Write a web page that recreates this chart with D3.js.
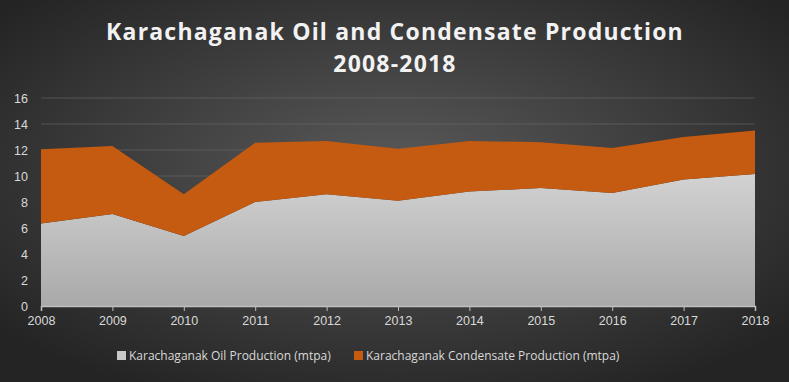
<!DOCTYPE html>
<html>
<head>
<meta charset="utf-8">
<script src="https://cdn.jsdelivr.net/npm/d3@7"></script>
<style>
  body { margin: 0; background: #333; }
  svg { display: block; font-family: "Open Sans", "Liberation Sans", sans-serif; }
</style>
</head>
<body>
<svg id="chart" width="789" height="382"></svg>
<script>
// data
const years = [2008, 2009, 2010, 2011, 2012, 2013, 2014, 2015, 2016, 2017, 2018];
const oil = [6.35, 7.08, 5.38, 8.0, 8.6, 8.1, 8.8, 9.07, 8.7, 9.74, 10.15];
const condensate = [5.7, 5.22, 3.22, 4.56, 4.1, 4.0, 3.9, 3.53, 3.45, 3.26, 3.35];
const yTicks = [0, 2, 4, 6, 8, 10, 12, 14, 16];
const seriesNames = ["Karachaganak Oil Production (mtpa)", "Karachaganak Condensate Production (mtpa)"];
const seriesColors = ["#c8c8c8", "#c55a11"];

const width = 789, height = 382;
const margin = { top: 98, right: 34, bottom: 76, left: 41 };

const svg = d3.select("#chart");
const defs = svg.append("defs");

const bg = defs.append("radialGradient").attr("id", "bg")
  .attr("cx", "50%").attr("cy", "45%").attr("r", "65%");
bg.append("stop").attr("offset", "0%").attr("stop-color", "#5a5a5a");
bg.append("stop").attr("offset", "100%").attr("stop-color", "#242424");

const oilGrad = defs.append("linearGradient").attr("id", "oilGrad")
  .attr("x1", 0).attr("y1", 0).attr("x2", 0).attr("y2", 1);
oilGrad.append("stop").attr("offset", "0%").attr("stop-color", "#d2d2d2");
oilGrad.append("stop").attr("offset", "100%").attr("stop-color", "#a9a9a9");

svg.append("rect").attr("width", width).attr("height", height).attr("fill", "url(#bg)");

// title
svg.append("text").attr("x", 395).attr("y", 40).attr("text-anchor", "middle")
  .attr("fill", "#f2f2f2").attr("font-size", 23).attr("font-weight", "bold")
  .attr("letter-spacing", 1.2).text("Karachaganak Oil and Condensate Production");
svg.append("text").attr("x", 395).attr("y", 72).attr("text-anchor", "middle")
  .attr("fill", "#f2f2f2").attr("font-size", 23).attr("font-weight", "bold")
  .attr("letter-spacing", 1.2).text("2008-2018");

const x = d3.scaleLinear()
  .domain(d3.extent(years))
  .range([margin.left, width - margin.right]);
const y = d3.scaleLinear()
  .domain([0, 16])
  .range([height - margin.bottom, margin.top]);

// gridlines
svg.append("g")
  .selectAll("line")
  .data(yTicks.slice(1))
  .join("line")
  .attr("x1", margin.left).attr("x2", width - margin.right)
  .attr("y1", d => y(d)).attr("y2", d => y(d))
  .attr("stroke", "#6a6a6a").attr("stroke-width", 1).attr("opacity", 0.6);

// stacked areas
const rows = years.map((yr, i) => ({ year: yr, oil: oil[i], condensate: condensate[i] }));
const stack = d3.stack().keys(["oil", "condensate"]);
const layers = stack(rows);

const area = d3.area()
  .x(d => x(d.data.year))
  .y0(d => y(d[0]))
  .y1(d => y(d[1]));

svg.append("g")
  .selectAll("path")
  .data(layers)
  .join("path")
  .attr("d", area)
  .attr("fill", (d, i) => i === 0 ? "url(#oilGrad)" : seriesColors[1]);

// axes
const xAxis = svg.append("g")
  .attr("transform", `translate(0,${y(0)})`)
  .call(d3.axisBottom(x).tickValues(years).tickFormat(d3.format("d")).tickSize(5).tickPadding(5));
xAxis.select(".domain").attr("stroke", "#bfbfbf").attr("stroke-width", 1.5);
xAxis.selectAll(".tick line").attr("stroke", "#bfbfbf");
xAxis.selectAll("text").attr("fill", "#d9d9d9").attr("font-size", 12.5);

const yAxis = svg.append("g")
  .attr("transform", `translate(${margin.left},0)`)
  .call(d3.axisLeft(y).tickValues(yTicks).tickSize(0).tickPadding(13));
yAxis.select(".domain").remove();
yAxis.selectAll("text").attr("fill", "#d9d9d9").attr("font-size", 12.5);

// legend
const legendX = [117, 354];
const legend = svg.append("g")
  .selectAll("g")
  .data(seriesNames)
  .join("g")
  .attr("transform", (d, i) => `translate(${legendX[i]},356)`);
legend.append("rect").attr("x", 0).attr("y", -5).attr("width", 9).attr("height", 9)
  .attr("fill", (d, i) => seriesColors[i]);
legend.append("text").attr("x", 12).attr("y", 4)
  .attr("fill", "#d9d9d9").attr("font-size", 12).text(d => d);
</script>
</body>
</html>
